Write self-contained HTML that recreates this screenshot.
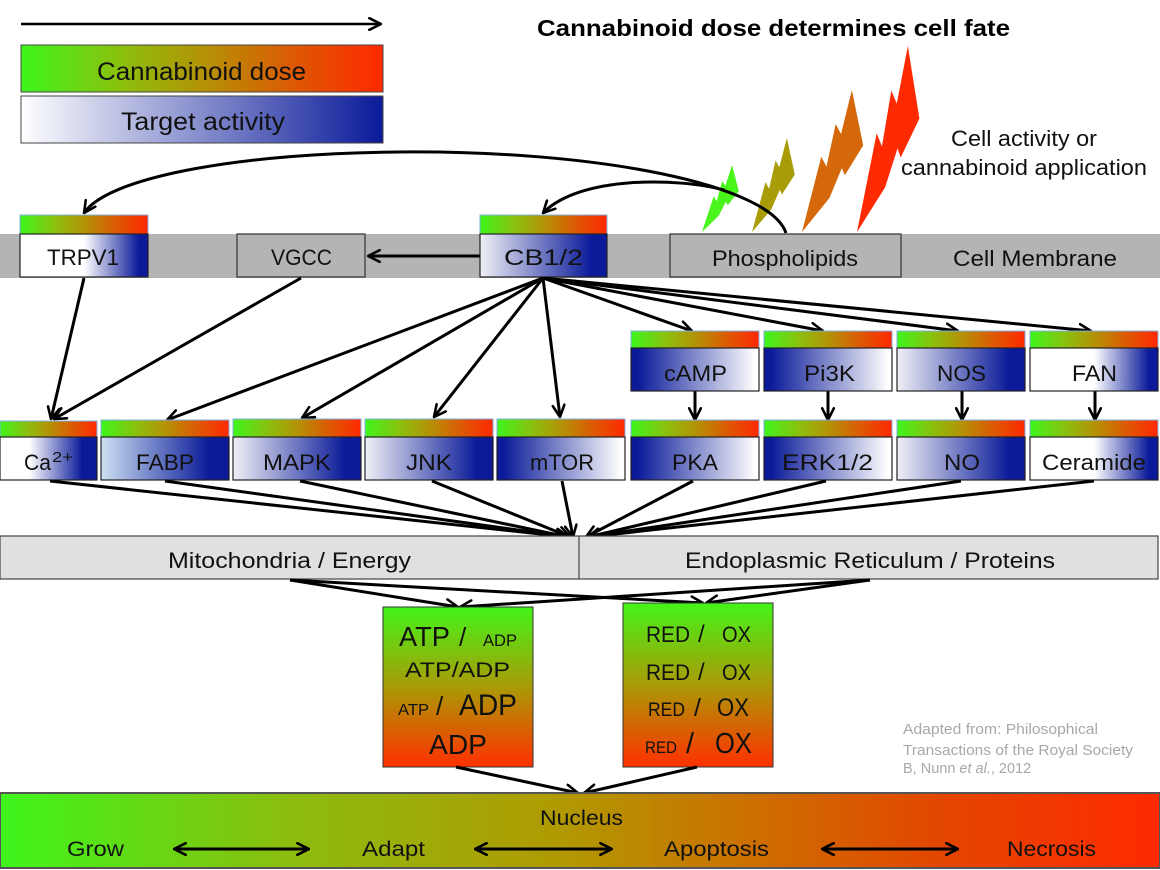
<!DOCTYPE html>
<html><head><meta charset="utf-8"><style>html,body{margin:0;padding:0;background:#fff}svg{display:block}</style></head>
<body>
<svg width="1160" height="870" viewBox="0 0 1160 870" xmlns="http://www.w3.org/2000/svg" font-family="'Liberation Sans', Arial, sans-serif">
<defs>
<linearGradient id="dose" x1="0" x2="1" y1="0" y2="0">
 <stop offset="0" stop-color="#3ef51c"/><stop offset="0.28" stop-color="#8cbf0e"/><stop offset="0.5" stop-color="#b39306"/><stop offset="0.75" stop-color="#dc5a04"/><stop offset="1" stop-color="#ff2800"/>
</linearGradient>
<linearGradient id="doseV" x1="0" x2="0" y1="0" y2="1">
 <stop offset="0" stop-color="#44f41a"/><stop offset="0.5" stop-color="#aa9a06"/><stop offset="1" stop-color="#ff3000"/>
</linearGradient>
<linearGradient id="bottom" x1="0" x2="1" y1="0" y2="0">
 <stop offset="0" stop-color="#3ef51c"/><stop offset="0.25" stop-color="#8cbc10"/><stop offset="0.48" stop-color="#b09a02"/><stop offset="0.62" stop-color="#c87600"/><stop offset="0.82" stop-color="#e44400"/><stop offset="1" stop-color="#ff2a00"/>
</linearGradient>
<linearGradient id="tgt" x1="0" x2="1"><stop offset="0" stop-color="#ffffff"/><stop offset="1" stop-color="#0a1a99"/></linearGradient>
<linearGradient id="wb55" x1="0" x2="1"><stop offset="0" stop-color="#fff"/><stop offset="0.5" stop-color="#fff"/><stop offset="0.93" stop-color="#0a1a99"/><stop offset="1" stop-color="#0a1a99"/></linearGradient>
<linearGradient id="wb30" x1="0" x2="1"><stop offset="0" stop-color="#fff"/><stop offset="0.3" stop-color="#fff"/><stop offset="0.85" stop-color="#0a1a99"/><stop offset="1" stop-color="#0a1a99"/></linearGradient>
<linearGradient id="lb" x1="0" x2="1"><stop offset="0" stop-color="#f0f0f6"/><stop offset="0.88" stop-color="#0a1a99"/><stop offset="1" stop-color="#0a1a99"/></linearGradient>
<linearGradient id="fabp" x1="0" x2="1"><stop offset="0" stop-color="#cde0f2"/><stop offset="0.85" stop-color="#0a1a99"/><stop offset="1" stop-color="#0a1a99"/></linearGradient>
<linearGradient id="bw" x1="0" x2="1"><stop offset="0" stop-color="#0a1a99"/><stop offset="0.05" stop-color="#0a1a99"/><stop offset="0.97" stop-color="#fff"/><stop offset="1" stop-color="#fff"/></linearGradient>
<marker id="ah" viewBox="0 0 12 12" refX="11" refY="6" markerWidth="14" markerHeight="14" markerUnits="userSpaceOnUse" orient="auto">
 <path d="M1,1 L11,6 L1,11" fill="none" stroke="#000" stroke-width="2.2" stroke-linecap="round" stroke-linejoin="round"/>
</marker>
<marker id="ahs" viewBox="0 0 12 12" refX="11" refY="6" markerWidth="14" markerHeight="14" markerUnits="userSpaceOnUse" orient="auto-start-reverse">
 <path d="M1,1 L11,6 L1,11" fill="none" stroke="#000" stroke-width="2.2" stroke-linecap="round" stroke-linejoin="round"/>
</marker>
</defs>

<rect width="1160" height="870" fill="#fff"/>

<!-- legend -->
<line x1="21" y1="24" x2="381" y2="24" stroke="#000" stroke-width="2.6" marker-end="url(#ah)"/>
<rect x="21" y="45" width="362" height="47" fill="url(#dose)" stroke="#444" stroke-width="1"/>
<text x="97" y="80" font-size="25" fill="#111" textLength="209" lengthAdjust="spacingAndGlyphs">Cannabinoid dose</text>
<rect x="21" y="96" width="362" height="47" fill="url(#tgt)" stroke="#444" stroke-width="1"/>
<text x="121" y="130" font-size="25" fill="#111" textLength="164" lengthAdjust="spacingAndGlyphs">Target activity</text>

<text x="537" y="36" font-size="23" font-weight="bold" fill="#000" textLength="473" lengthAdjust="spacingAndGlyphs">Cannabinoid dose determines cell fate</text>

<text x="951" y="146" font-size="22" fill="#111" textLength="146" lengthAdjust="spacingAndGlyphs">Cell activity or</text>
<text x="901" y="175" font-size="22" fill="#111" textLength="246" lengthAdjust="spacingAndGlyphs">cannabinoid application</text>

<!-- bolts -->
<g>
<polygon transform="translate(702,232) scale(0.92,0.67)" fill="#49f51a" points="0,0 12.6,-53 16,-46 22,-76 25.5,-69 32.6,-100 40,-61 28,-40 26,-45 18,-24"/>
<polygon transform="translate(752,232) scale(1.07,0.94)" fill="#a89c08" points="0,0 12.6,-53 16,-46 22,-76 25.5,-69 32.6,-100 40,-61 28,-40 26,-45 18,-24"/>
<polygon transform="translate(802,232) scale(1.53,1.42)" fill="#d4680a" points="0,0 12.6,-53 16,-46 22,-76 25.5,-69 32.6,-100 40,-61 28,-40 26,-45 18,-24"/>
<polygon transform="translate(857,232) scale(1.56,1.86)" fill="#ff2a00" points="0,0 12.6,-53 16,-46 22,-76 25.5,-69 32.6,-100 40,-61 28,-40 26,-45 18,-24"/>
</g>

<!-- curves -->
<path d="M786,233 C770,185 600,150 398,152 C250,153 110,175 84,213" fill="none" stroke="#000" stroke-width="3" marker-end="url(#ah)"/>
<path d="M724,190 C680,178 580,175 543,213" fill="none" stroke="#000" stroke-width="3" marker-end="url(#ah)"/>

<!-- membrane -->
<rect x="0" y="234" width="1160" height="44" fill="#b4b4b4"/>
<text x="953" y="266" font-size="22" fill="#111" textLength="164" lengthAdjust="spacingAndGlyphs">Cell Membrane</text>

<!-- TRPV1 -->
<rect x="20" y="215" width="128" height="19" fill="url(#dose)" stroke="#7fb0e0" stroke-width="1"/>
<rect x="20" y="234" width="128" height="43" fill="url(#wb55)" stroke="#222" stroke-width="1.2"/>
<text x="47" y="265" font-size="22" fill="#111" textLength="72" lengthAdjust="spacingAndGlyphs">TRPV1</text>
<!-- VGCC -->
<rect x="237" y="234" width="128" height="43" fill="#b4b4b4" stroke="#333" stroke-width="1.2"/>
<text x="271" y="265" font-size="22" fill="#111" textLength="61" lengthAdjust="spacingAndGlyphs">VGCC</text>
<!-- CB1/2 -->
<rect x="480" y="215" width="127" height="19" fill="url(#dose)" stroke="#7fb0e0" stroke-width="1"/>
<rect x="480" y="234" width="127" height="43" fill="url(#lb)" stroke="#222" stroke-width="1.2"/>
<text x="504" y="265" font-size="22" fill="#111" textLength="79" lengthAdjust="spacingAndGlyphs">CB1/2</text>
<!-- Phospholipids -->
<rect x="670" y="234" width="231" height="43" fill="#b4b4b4" stroke="#333" stroke-width="1.2"/>
<text x="712" y="266" font-size="22" fill="#111" textLength="146" lengthAdjust="spacingAndGlyphs">Phospholipids</text>

<!-- CB -> VGCC -->
<line x1="480" y1="256" x2="368" y2="256" stroke="#000" stroke-width="3" marker-end="url(#ah)"/>

<!-- lines to row 2 -->
<g stroke="#000" stroke-width="3" fill="none" marker-end="url(#ah)">
<line x1="84" y1="278" x2="51" y2="419"/>
<line x1="301" y1="278" x2="54" y2="419"/>
<line x1="543" y1="278" x2="167" y2="420"/>
<line x1="543" y1="278" x2="302" y2="418"/>
<line x1="543" y1="278" x2="434" y2="417"/>
<line x1="543" y1="278" x2="560" y2="417"/>
<line x1="543" y1="278" x2="692" y2="331"/>
<line x1="543" y1="278" x2="823" y2="331"/>
<line x1="543" y1="278" x2="958" y2="331"/>
<line x1="543" y1="278" x2="1091" y2="331"/>
<line x1="695" y1="391" x2="695" y2="420"/>
<line x1="828" y1="391" x2="828" y2="420"/>
<line x1="962" y1="391" x2="962" y2="420"/>
<line x1="1095" y1="391" x2="1095" y2="420"/>
</g>

<!-- row 1 -->
<rect x="631" y="331" width="128" height="17" fill="url(#dose)" stroke="#7fb0e0" stroke-width="1"/>
<rect x="631" y="348" width="128" height="43" fill="url(#bw)" stroke="#222" stroke-width="1.2"/>
<text x="664" y="381" font-size="22" fill="#111" textLength="63" lengthAdjust="spacingAndGlyphs">cAMP</text>
<rect x="764" y="331" width="128" height="17" fill="url(#dose)" stroke="#7fb0e0" stroke-width="1"/>
<rect x="764" y="348" width="128" height="43" fill="url(#bw)" stroke="#222" stroke-width="1.2"/>
<text x="804" y="381" font-size="22" fill="#111" textLength="51" lengthAdjust="spacingAndGlyphs">Pi3K</text>
<rect x="897" y="331" width="128" height="17" fill="url(#dose)" stroke="#7fb0e0" stroke-width="1"/>
<rect x="897" y="348" width="128" height="43" fill="url(#lb)" stroke="#222" stroke-width="1.2"/>
<text x="937" y="381" font-size="22" fill="#111" textLength="49" lengthAdjust="spacingAndGlyphs">NOS</text>
<rect x="1030" y="331" width="128" height="17" fill="url(#dose)" stroke="#7fb0e0" stroke-width="1"/>
<rect x="1030" y="348" width="128" height="43" fill="url(#wb55)" stroke="#222" stroke-width="1.2"/>
<text x="1072" y="381" font-size="22" fill="#111" textLength="45" lengthAdjust="spacingAndGlyphs">FAN</text>

<!-- row 2 -->
<rect x="0" y="421" width="97" height="16" fill="url(#dose)" stroke="#7fb0e0" stroke-width="1"/>
<rect x="0" y="437" width="97" height="43" fill="url(#wb30)" stroke="#222" stroke-width="1.2"/>
<text x="24" y="470" font-size="22" fill="#111"><tspan textLength="27" lengthAdjust="spacingAndGlyphs">Ca</tspan><tspan x="52" y="462" font-size="15" textLength="21" lengthAdjust="spacingAndGlyphs">2+</tspan></text>

<rect x="101" y="420" width="128" height="17" fill="url(#dose)" stroke="#7fb0e0" stroke-width="1"/>
<rect x="101" y="437" width="128" height="43" fill="url(#fabp)" stroke="#222" stroke-width="1.2"/>
<text x="136" y="470" font-size="22" fill="#111" textLength="58" lengthAdjust="spacingAndGlyphs">FABP</text>

<rect x="233" y="419" width="128" height="18" fill="url(#dose)" stroke="#7fb0e0" stroke-width="1"/>
<rect x="233" y="437" width="128" height="43" fill="url(#lb)" stroke="#222" stroke-width="1.2"/>
<text x="263" y="470" font-size="22" fill="#111" textLength="68" lengthAdjust="spacingAndGlyphs">MAPK</text>

<rect x="365" y="419" width="128" height="18" fill="url(#dose)" stroke="#7fb0e0" stroke-width="1"/>
<rect x="365" y="437" width="128" height="43" fill="url(#lb)" stroke="#222" stroke-width="1.2"/>
<text x="406" y="470" font-size="22" fill="#111" textLength="46" lengthAdjust="spacingAndGlyphs">JNK</text>

<rect x="497" y="419" width="128" height="18" fill="url(#dose)" stroke="#7fb0e0" stroke-width="1"/>
<rect x="497" y="437" width="128" height="43" fill="url(#bw)" stroke="#222" stroke-width="1.2"/>
<text x="530" y="470" font-size="22" fill="#111" textLength="64" lengthAdjust="spacingAndGlyphs">mTOR</text>

<rect x="631" y="420" width="128" height="17" fill="url(#dose)" stroke="#7fb0e0" stroke-width="1"/>
<rect x="631" y="437" width="128" height="43" fill="url(#bw)" stroke="#222" stroke-width="1.2"/>
<text x="672" y="470" font-size="22" fill="#111" textLength="46" lengthAdjust="spacingAndGlyphs">PKA</text>

<rect x="764" y="420" width="128" height="17" fill="url(#dose)" stroke="#7fb0e0" stroke-width="1"/>
<rect x="764" y="437" width="128" height="43" fill="url(#bw)" stroke="#222" stroke-width="1.2"/>
<text x="782" y="470" font-size="22" fill="#111" textLength="91" lengthAdjust="spacingAndGlyphs">ERK1/2</text>

<rect x="897" y="420" width="128" height="17" fill="url(#dose)" stroke="#7fb0e0" stroke-width="1"/>
<rect x="897" y="437" width="128" height="43" fill="url(#lb)" stroke="#222" stroke-width="1.2"/>
<text x="944" y="470" font-size="22" fill="#111" textLength="36" lengthAdjust="spacingAndGlyphs">NO</text>

<rect x="1030" y="420" width="128" height="17" fill="url(#dose)" stroke="#7fb0e0" stroke-width="1"/>
<rect x="1030" y="437" width="128" height="43" fill="url(#wb55)" stroke="#222" stroke-width="1.2"/>
<text x="1042" y="470" font-size="22" fill="#111" textLength="104" lengthAdjust="spacingAndGlyphs">Ceramide</text>

<!-- convergence lines -->
<g stroke="#000" stroke-width="3" fill="none" marker-end="url(#ah)">
<line x1="50" y1="481" x2="568" y2="537"/>
<line x1="165" y1="481" x2="568" y2="537"/>
<line x1="300" y1="481" x2="568" y2="537"/>
<line x1="432" y1="481" x2="570" y2="537"/>
<line x1="562" y1="481" x2="573" y2="537"/>
<line x1="693" y1="481" x2="586" y2="537"/>
<line x1="826" y1="481" x2="588" y2="537"/>
<line x1="961" y1="481" x2="588" y2="537"/>
<line x1="1094" y1="481" x2="588" y2="537"/>
</g>

<!-- mito / ER -->
<rect x="0" y="536" width="1158" height="43" fill="#e0e0e0" stroke="#444" stroke-width="1.2"/>
<line x1="579" y1="536" x2="579" y2="579" stroke="#444" stroke-width="1.2"/>
<text x="168" y="568" font-size="22" fill="#111" textLength="243" lengthAdjust="spacingAndGlyphs">Mitochondria / Energy</text>
<text x="685" y="568" font-size="22" fill="#111" textLength="370" lengthAdjust="spacingAndGlyphs">Endoplasmic Reticulum / Proteins</text>

<g stroke="#000" stroke-width="3" fill="none" marker-end="url(#ah)">
<line x1="290" y1="580" x2="458" y2="607"/>
<line x1="870" y1="580" x2="460" y2="607"/>
<line x1="290" y1="580" x2="703" y2="603"/>
<line x1="870" y1="580" x2="706" y2="603"/>
</g>

<!-- ATP box -->
<rect x="383" y="607" width="150" height="160" fill="url(#doseV)" stroke="#333" stroke-width="1"/>
<text y="646" fill="#111"><tspan x="399" font-size="28" textLength="51" lengthAdjust="spacingAndGlyphs">ATP</tspan><tspan x="459" font-size="26">/</tspan><tspan x="483" font-size="17" textLength="34" lengthAdjust="spacingAndGlyphs">ADP</tspan></text>
<text x="405" y="677" font-size="21" fill="#111" textLength="105" lengthAdjust="spacingAndGlyphs">ATP/ADP</text>
<text y="715" fill="#111"><tspan x="398" font-size="15.5" textLength="31" lengthAdjust="spacingAndGlyphs">ATP</tspan><tspan x="436" font-size="26">/</tspan><tspan x="459" font-size="30" textLength="58" lengthAdjust="spacingAndGlyphs">ADP</tspan></text>
<text x="429" y="754" font-size="28" fill="#111" textLength="58" lengthAdjust="spacingAndGlyphs">ADP</text>

<!-- RED box -->
<rect x="623" y="603" width="150" height="164" fill="url(#doseV)" stroke="#333" stroke-width="1"/>
<text y="642" fill="#111" font-size="22"><tspan x="646" textLength="44" lengthAdjust="spacingAndGlyphs">RED</tspan><tspan x="698" font-size="24">/</tspan><tspan x="722" textLength="29" lengthAdjust="spacingAndGlyphs">OX</tspan></text>
<text y="680" fill="#111" font-size="22"><tspan x="646" textLength="44" lengthAdjust="spacingAndGlyphs">RED</tspan><tspan x="698" font-size="24">/</tspan><tspan x="722" textLength="29" lengthAdjust="spacingAndGlyphs">OX</tspan></text>
<text y="716" fill="#111"><tspan x="648" font-size="19" textLength="37" lengthAdjust="spacingAndGlyphs">RED</tspan><tspan x="694" font-size="25">/</tspan><tspan x="717" font-size="25" textLength="32" lengthAdjust="spacingAndGlyphs">OX</tspan></text>
<text y="753" fill="#111"><tspan x="686" font-size="29">/</tspan><tspan x="645" font-size="16.5" textLength="32" lengthAdjust="spacingAndGlyphs">RED</tspan><tspan x="715" font-size="29" textLength="37" lengthAdjust="spacingAndGlyphs">OX</tspan></text>

<g stroke="#000" stroke-width="3" fill="none" marker-end="url(#ah)">
<line x1="456" y1="767" x2="578" y2="793"/>
<line x1="697" y1="767" x2="584" y2="793"/>
</g>

<!-- credit -->
<g font-size="14.5" fill="#a8a8a8">
<text x="903" y="734" textLength="195" lengthAdjust="spacingAndGlyphs">Adapted from: Philosophical</text>
<text x="903" y="755" textLength="230" lengthAdjust="spacingAndGlyphs">Transactions of the Royal Society</text>
<text x="903" y="773">B, Nunn <tspan font-style="italic">et al.</tspan>, 2012</text>
</g>

<!-- bottom bar -->
<rect x="0" y="793" width="1160" height="75" fill="url(#bottom)" stroke="#555" stroke-width="2"/>
<text x="540" y="825" font-size="21" fill="#111" textLength="83" lengthAdjust="spacingAndGlyphs">Nucleus</text>
<text x="67" y="856" font-size="21" fill="#111" textLength="57" lengthAdjust="spacingAndGlyphs">Grow</text>
<text x="362" y="856" font-size="21" fill="#111" textLength="63" lengthAdjust="spacingAndGlyphs">Adapt</text>
<text x="664" y="856" font-size="21" fill="#111" textLength="105" lengthAdjust="spacingAndGlyphs">Apoptosis</text>
<text x="1007" y="856" font-size="21" fill="#111" textLength="89" lengthAdjust="spacingAndGlyphs">Necrosis</text>
<g stroke="#000" stroke-width="3" fill="none" marker-start="url(#ahs)" marker-end="url(#ah)">
<line x1="174" y1="849" x2="309" y2="849"/>
<line x1="475" y1="849" x2="612" y2="849"/>
<line x1="822" y1="849" x2="958" y2="849"/>
</g>
</svg>
</body></html>
